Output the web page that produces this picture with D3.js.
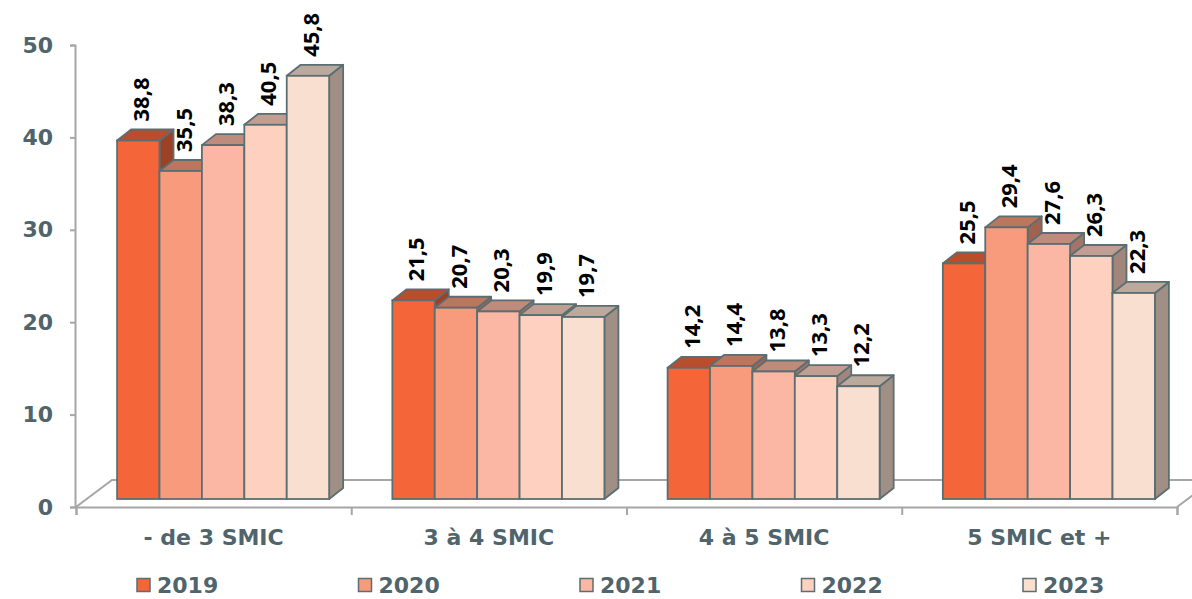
<!DOCTYPE html>
<html>
<head>
<meta charset="utf-8">
<script src="https://cdn.jsdelivr.net/npm/d3@7"></script>
<style>
body { margin: 0; background: #fff; }
</style>
</head>
<body>
<script>
var categories = ["- de 3 SMIC", "3 à 4 SMIC", "4 à 5 SMIC", "5 SMIC et +"];
var years = ["2019", "2020", "2021", "2022", "2023"];
var v2019 = [38.8, 21.5, 14.2, 25.5];
var v2020 = [35.5, 20.7, 14.4, 29.4];
var v2021 = [38.3, 20.3, 13.8, 27.6];
var v2022 = [40.5, 19.9, 13.3, 26.3];
var v2023 = [45.8, 19.7, 12.2, 22.3];
var yTicks = [0, 10, 20, 30, 40, 50];
var colors = ["#F4653A", "#F89B7C", "#FBB7A3", "#FDD0C0", "#F8DFD0"];

var series = [v2019, v2020, v2021, v2022, v2023];

var width = 1192;
var height = 599;
var margin = {top: 45, left: 75, right: 15, bottom: 92};

var floorDx = 36, floorDy = 27;   // depth of the floor
var offDx = 9.5, offDy = 8;        // bars sit a bit back on the floor
var barDx = 14, barDy = 11;        // depth of each bar

var axisColor = "#A6A6A6";
var textColor = "#50646C";
var edgeColor = "#5B6E72";

var svg = d3.select("body")
	.append("svg")
	.attr("width", width)
	.attr("height", height);

var xScale = d3.scaleBand()
	.domain(categories)
	.range([76, 1177]);

var inner = d3.scaleBand()
	.domain(years)
	.range([31.6, xScale.bandwidth() - 31.6]);

var yScale = d3.scaleLinear()
	.domain([0, 50])
	.range([height - margin.bottom, margin.top]);

var y0 = yScale(0);
var xL = xScale.range()[0], xR = xScale.range()[1];

// floor outline
svg.append("path")
	.attr("d", "M" + xL + "," + y0 + "L" + (xL + floorDx) + "," + (y0 - floorDy) +
		"L" + (xR + floorDx) + "," + (y0 - floorDy) + "L" + xR + "," + y0)
	.attr("fill", "none")
	.attr("stroke", axisColor)
	.attr("stroke-width", 2);

// y axis
var yAxis = svg.append("g")
	.attr("transform", "translate(" + margin.left + ",0)")
	.call(d3.axisLeft(yScale).tickValues(yTicks).tickSize(5).tickPadding(17));
yAxis.select(".domain").attr("stroke", axisColor).attr("stroke-width", 2);
yAxis.selectAll(".tick line").attr("stroke", axisColor).attr("stroke-width", 2);
yAxis.selectAll(".tick text")
	.attr("fill", textColor)
	.style("font-family", "'DejaVu Sans', Verdana, sans-serif")
	.style("font-weight", "bold")
	.style("font-size", "22px");

// x axis: ticks at band boundaries, labels at band centers
var bounds = d3.scaleLinear().domain([0, categories.length]).range([xL, xR]);
var xAxis = svg.append("g")
	.attr("transform", "translate(0," + y0 + ")")
	.call(d3.axisBottom(bounds).tickValues(d3.range(categories.length + 1)).tickSize(8).tickFormat(""));
xAxis.select(".domain").attr("stroke", axisColor).attr("stroke-width", 2);
xAxis.selectAll(".tick line").attr("stroke", axisColor).attr("stroke-width", 2);

svg.append("g")
	.selectAll("text")
	.data(categories)
	.join("text")
	.attr("x", function(d) { return xScale(d) + xScale.bandwidth() / 2; })
	.attr("y", 537)
	.attr("dy", "0.35em")
	.attr("text-anchor", "middle")
	.attr("fill", textColor)
	.style("font-family", "'DejaVu Sans', Verdana, sans-serif")
	.style("font-weight", "bold")
	.style("font-size", "22px")
	.text(function(d) { return d; });

// bars, drawn left to right so later faces hide earlier sides
var bw = inner.bandwidth();
categories.forEach(function(cat, ci) {
	years.forEach(function(yr, si) {
		var v = series[si][ci];
		var x = xScale(cat) + inner(yr) + offDx;
		var yt = yScale(v) - offDy;
		var yb = y0 - offDy;
		var g = svg.append("g");
		var c = d3.color(colors[si]);
		g.append("path") // side
			.attr("d", "M" + (x + bw) + "," + yt + "L" + (x + bw + barDx) + "," + (yt - barDy) +
				"L" + (x + bw + barDx) + "," + (yb - barDy) + "L" + (x + bw) + "," + yb + "Z")
			.attr("fill", c.darker(1.25))
			.attr("stroke", edgeColor)
			.attr("stroke-width", 1.8)
			.attr("stroke-linejoin", "round");
		g.append("path") // top
			.attr("d", "M" + x + "," + yt + "L" + (x + barDx) + "," + (yt - barDy) +
				"L" + (x + bw + barDx) + "," + (yt - barDy) + "L" + (x + bw) + "," + yt + "Z")
			.attr("fill", c.darker(0.77))
			.attr("stroke", edgeColor)
			.attr("stroke-width", 1.8)
			.attr("stroke-linejoin", "round");
		g.append("rect") // front
			.attr("x", x)
			.attr("y", yt)
			.attr("width", bw)
			.attr("height", yb - yt)
			.attr("fill", colors[si])
			.attr("stroke", edgeColor)
			.attr("stroke-width", 1.8);
	});
});

// value labels
categories.forEach(function(cat, ci) {
	years.forEach(function(yr, si) {
		var v = series[si][ci];
		var cx = xScale(cat) + inner(yr) + offDx + bw / 2 + 3;
		var ly = yScale(v) - offDy - barDy - 8;
		svg.append("text")
			.attr("transform", "translate(" + cx + "," + ly + ") rotate(-90)")
			.attr("dy", "0.36em")
			.attr("fill", "#000")
			.style("font-family", "'Open Sans', sans-serif")
			.style("font-weight", "bold")
			.style("font-size", "22px")
			.text(d3.format(".1f")(v).replace(".", ","));
	});
});

// legend
var legend = svg.append("g")
	.selectAll("g")
	.data(years)
	.join("g")
	.attr("transform", function(d, i) { return "translate(" + (137 + i * 221.5) + ",585)"; });

legend.append("rect")
	.attr("x", 0)
	.attr("y", -6.5)
	.attr("width", 13)
	.attr("height", 13)
	.attr("fill", function(d, i) { return colors[i]; })
	.attr("stroke", edgeColor)
	.attr("stroke-width", 1.5);

legend.append("text")
	.attr("x", 20)
	.attr("dy", "0.35em")
	.attr("fill", textColor)
	.style("font-family", "'DejaVu Sans', Verdana, sans-serif")
	.style("font-weight", "bold")
	.style("font-size", "22px")
	.text(function(d) { return d; });
</script>
</body>
</html>
